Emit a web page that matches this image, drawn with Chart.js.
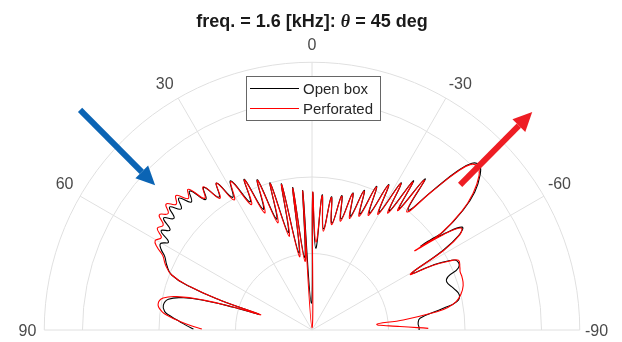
<!DOCTYPE html>
<html>
<head>
<meta charset="utf-8">
<script src="https://cdn.jsdelivr.net/npm/chart.js@4.4.0/dist/chart.umd.min.js"></script>
<style>
  html, body { margin: 0; padding: 0; background: #fff; }
  #wrap { width: 622px; height: 342px; }
</style>
</head>
<body>
<div id="wrap"><canvas id="polar-chart" width="622" height="342"></canvas></div>
<script>
// 각도(도): 0 = 위쪽, + = 왼쪽 / 반지름: 눈금 링 단위
var thetaOpen = [
  89.5, 88.0, 86.4, 84.5, 82.9, 80.5, 77.9, 75.9, 74.6, 73.8, 73.4,
  72.0, 70.5, 68.6, 65.9, 63.5, 61.8,
  60.3, 58.5, 56.7, 54.8, 53.0, 51.0, 49.2, 47.2, 45.3, 43.3, 41.3, 39.2, 37.2, 35.0,
  33.0, 30.9, 28.6, 25.8, 24.2, 22.0, 20.0, 17.7, 15.9, 13.7, 11.8, 9.6, 7.7, 5.8, 3.8, 1.5,
  -0.3, -2.6, -4.3, -6.5, -8.3, -10.6, -12.5, -14.7, -16.6, -18.7, -20.5, -22.5, -24.2, -26.2,
  -27.8, -29.7, -31.2, -33.0, -34.2, -35.7, -36.8, -38.7,
  -40.9, -42.4, -43.8, -45.5, -47.3, -49.7, -51.6, -53.2, -52.7, -52.4,
  -54.0, -55.6, -57.2, -58.8, -60.4, -61.8, -63.3, -64.5, -67.0, -68.6, -70.4, -73.6, -76.6, -78.9,
  -80.6, -83.8, -86.4, -88.6, -90.0
];
var rOpen = [
  1.55, 1.64, 1.73, 1.85, 1.94, 1.97, 1.92, 1.73, 1.43, 1.07, 0.73,
  1.27, 1.69, 1.97, 2.08, 2.15, 2.24,
  2.28, 2.20, 2.36, 2.27, 2.43, 2.32, 2.46, 2.33, 2.45, 2.30, 2.42, 2.20, 2.34, 2.12,
  2.29, 2.02, 2.22, 1.86, 2.16, 1.70, 2.09, 1.52, 2.00, 1.31, 1.95, 1.02, 1.88, 0.95, 1.82, 0.35,
  1.79, 1.07, 1.77, 1.33, 1.76, 1.42, 1.80, 1.50, 1.87, 1.57, 1.95, 1.64, 2.06, 1.70,
  2.15, 1.77, 2.25, 1.85, 2.36, 1.95, 2.47, 2.01,
  2.42, 2.80, 3.02, 3.07, 2.99, 2.79, 2.52, 2.14, 1.95, 1.80,
  2.15, 2.38, 2.28, 1.98, 1.50, 1.80, 2.02, 2.10, 2.08, 1.91, 1.87, 1.93, 1.98, 1.93,
  1.74, 1.42, 1.39, 1.40, 1.40
];

var thetaPerf = [
  89.5, 88.0, 86.4, 84.5, 82.9, 80.5, 77.9, 75.9, 74.6, 73.8, 73.4,
  72.0, 70.5, 68.6, 65.9, 63.5, 61.8,
  60.3, 58.5, 56.7, 54.8, 53.0, 51.0, 49.2, 47.2, 45.3, 43.3, 41.3, 39.2, 37.2, 35.0,
  33.0, 30.9, 28.6, 25.8, 24.2, 22.0, 20.0, 17.7, 15.9, 13.7, 11.8, 9.6, 7.7, 5.8, 3.8, 1.5,
  -0.3, -2.6, -4.3, -6.5, -8.3, -10.6, -12.5, -14.7, -16.6, -18.7, -20.5, -22.5, -24.2, -26.2,
  -27.8, -29.7, -31.2, -33.0, -34.2, -35.7, -36.8, -38.7,
  -40.9, -42.4, -43.8, -45.5, -47.3, -49.7, -51.6, -53.2, -52.7, -52.4,
  -54.0, -55.6, -57.2, -58.8, -60.4, -61.8, -63.3, -64.5, -67.0, -68.6, -70.4, -73.6, -76.6, -78.9,
  -80.6, -81.7, -83.7, -85.0, -87.7, -89.2
];
var rPerf = [
  1.44, 1.58, 1.72, 1.88, 1.98, 2.04, 1.99, 1.78, 1.47, 1.10, 0.70,
  1.25, 1.68, 1.97, 2.10, 2.18, 2.30,
  2.36, 2.31, 2.42, 2.38, 2.50, 2.42, 2.52, 2.42, 2.50, 2.36, 2.45, 2.22, 2.35, 2.10,
  2.29, 1.98, 2.21, 1.82, 2.15, 1.65, 2.08, 1.47, 1.99, 1.26, 1.94, 0.97, 1.87, 0.90, 1.81, 0.03,
  1.79, 1.15, 1.76, 1.30, 1.75, 1.40, 1.79, 1.47, 1.86, 1.54, 1.94, 1.61, 2.05, 1.67,
  2.14, 1.74, 2.24, 1.82, 2.34, 1.92, 2.45, 1.98,
  2.40, 2.78, 3.00, 3.04, 2.97, 2.76, 2.50, 2.10, 1.85, 1.70,
  2.12, 2.36, 2.30, 2.02, 1.48, 1.78, 2.00, 2.12, 2.10, 2.08, 2.08, 2.06, 2.00, 1.92,
  1.80, 1.65, 1.20, 0.85, 1.15, 1.52
];

// 눈금
var angleTicks = [90, 60, 30, 0, -30, -60, -90];
var ringTicks = [1, 2, 3];
var rMax = 3.5;
var seriesLabels = ["Open box", "Perforated"];

// 화살표 (각도, 반지름)
var blueArrow = { from: [46.5, 4.18], to: [47.3, 2.79] };
var redArrow = { from: [-45.6, 2.71], to: [-45.3, 4.05] };

function polar(th, r) {
  var a = (th * Math.PI) / 180;
  return { x: -r * Math.sin(a), y: r * Math.cos(a) };
}

function toPoints(thArr, rArr) {
  var pts = [];
  for (var i = 0; i < thArr.length; i++) {
    pts.push(polar(thArr[i], rArr[i]));
  }
  return pts;
}

// 라벨 미세 위치 (px)
function labelShift(a) {
  if (Math.abs(a) === 90) return [0, 2];
  if (Math.abs(a) === 60) return [a > 0 ? -1 : 1, -3];
  if (Math.abs(a) === 30) return [a > 0 ? -5 : 6, 1];
  return [0, 0];
}

// 극좌표 격자 + 각도 라벨
var polarGrid = {
  id: "polarGrid",
  beforeDatasetsDraw: function (chart) {
    var ctx = chart.ctx;
    var xs = chart.scales.x;
    var ys = chart.scales.y;
    var cx = xs.getPixelForValue(0);
    var cy = ys.getPixelForValue(0);
    var unit = xs.getPixelForValue(1) - cx;

    ctx.save();
    ctx.strokeStyle = "#e0e0e0";
    ctx.lineWidth = 1;
    ringTicks.concat([rMax]).forEach(function (r) {
      ctx.beginPath();
      ctx.arc(cx, cy, r * unit, Math.PI, 2 * Math.PI);
      ctx.stroke();
    });
    angleTicks.forEach(function (a) {
      var p = polar(a, rMax);
      ctx.beginPath();
      ctx.moveTo(cx, cy);
      ctx.lineTo(xs.getPixelForValue(p.x), ys.getPixelForValue(p.y));
      ctx.stroke();
    });

    ctx.fillStyle = "#4a4a4a";
    ctx.font = "16px 'Liberation Sans', Arial, sans-serif";
    ctx.textAlign = "center";
    ctx.textBaseline = "middle";
    angleTicks.forEach(function (a) {
      var p = polar(a, rMax + 0.22);
      var s = labelShift(a);
      ctx.fillText(String(a), xs.getPixelForValue(p.x) + s[0], ys.getPixelForValue(p.y) + s[1]);
    });
    ctx.restore();
  },
  afterDatasetsDraw: function (chart) {
    var ctx = chart.ctx;
    var xs = chart.scales.x;
    var ys = chart.scales.y;

    function drawArrow(arrow, color) {
      var a = polar(arrow.from[0], arrow.from[1]);
      var b = polar(arrow.to[0], arrow.to[1]);
      var x1 = xs.getPixelForValue(a.x), y1 = ys.getPixelForValue(a.y);
      var x2 = xs.getPixelForValue(b.x), y2 = ys.getPixelForValue(b.y);
      var ang = Math.atan2(y2 - y1, x2 - x1);
      var headLen = 19, headW = 9;
      var bx = x2 - headLen * Math.cos(ang), by = y2 - headLen * Math.sin(ang);
      ctx.save();
      ctx.strokeStyle = color;
      ctx.fillStyle = color;
      ctx.lineWidth = 6;
      ctx.beginPath();
      ctx.moveTo(x1, y1);
      ctx.lineTo(bx, by);
      ctx.stroke();
      ctx.beginPath();
      ctx.moveTo(x2, y2);
      ctx.lineTo(bx + headW * Math.sin(ang), by - headW * Math.cos(ang));
      ctx.lineTo(bx - headW * Math.sin(ang), by + headW * Math.cos(ang));
      ctx.closePath();
      ctx.fill();
      ctx.restore();
    }
    drawArrow(blueArrow, "#0b64b4");
    drawArrow(redArrow, "#ee1d24");
  },
  afterDraw: function (chart) {
    var ctx = chart.ctx;
    var cx = chart.scales.x.getPixelForValue(0);
    ctx.save();

    // 제목
    ctx.fillStyle = "#1a1a1a";
    ctx.textBaseline = "alphabetic";
    var parts = [
      { t: "freq. = 1.6 [kHz]: ", f: "bold 18px 'Liberation Sans', Arial, sans-serif" },
      { t: "\u03b8", f: "italic bold 18px 'Liberation Serif', 'Times New Roman', serif" },
      { t: " = 45 deg", f: "bold 18px 'Liberation Sans', Arial, sans-serif" }
    ];
    var total = 0;
    parts.forEach(function (p) {
      ctx.font = p.f;
      p.w = ctx.measureText(p.t).width;
      total += p.w;
    });
    var x = cx - total / 2;
    parts.forEach(function (p) {
      ctx.font = p.f;
      ctx.textAlign = "left";
      ctx.fillText(p.t, x, 27);
      x += p.w;
    });

    // 범례
    var lx = 246, ly = 76, lw = 134, lh = 44;
    ctx.fillStyle = "#fff";
    ctx.fillRect(lx, ly, lw, lh);
    ctx.strokeStyle = "#666";
    ctx.lineWidth = 1;
    ctx.strokeRect(lx + 0.5, ly + 0.5, lw, lh);
    var colors = [chart.data.datasets[0].borderColor, chart.data.datasets[1].borderColor];
    ctx.font = "15px 'Liberation Sans', Arial, sans-serif";
    ctx.textBaseline = "middle";
    ctx.textAlign = "left";
    for (var i = 0; i < 2; i++) {
      var yy = ly + 12.5 + i * 20;
      ctx.strokeStyle = colors[i];
      ctx.beginPath();
      ctx.moveTo(lx + 4, yy);
      ctx.lineTo(lx + 53, yy);
      ctx.stroke();
      ctx.fillStyle = "#262626";
      ctx.fillText(seriesLabels[i], lx + 57, yy + 1);
    }
    ctx.restore();
  }
};

var unitPx = 76.5;
var centerX = 312, centerY = 330;

new Chart(document.getElementById("polar-chart"), {
  type: "scatter",
  data: {
    datasets: [
      {
        label: seriesLabels[0],
        data: toPoints(thetaOpen, rOpen),
        showLine: true,
        borderColor: "#000000",
        borderWidth: 1.1,
        pointRadius: 0,
        tension: 0.45,
        fill: false,
        clip: false,
        order: 2
      },
      {
        label: seriesLabels[1],
        data: toPoints(thetaPerf, rPerf),
        showLine: true,
        borderColor: "#ff0000",
        borderWidth: 1.1,
        pointRadius: 0,
        tension: 0.45,
        fill: false,
        clip: false,
        order: 1
      }
    ]
  },
  options: {
    responsive: false,
    animation: false,
    devicePixelRatio: 1,
    layout: { padding: 0 },
    scales: {
      x: { type: "linear", display: false, min: -centerX / unitPx, max: (622 - centerX) / unitPx },
      y: { type: "linear", display: false, min: -(342 - centerY) / unitPx, max: centerY / unitPx }
    },
    plugins: {
      legend: { display: false },
      tooltip: { enabled: false }
    }
  },
  plugins: [polarGrid]
});
</script>
</body>
</html>
